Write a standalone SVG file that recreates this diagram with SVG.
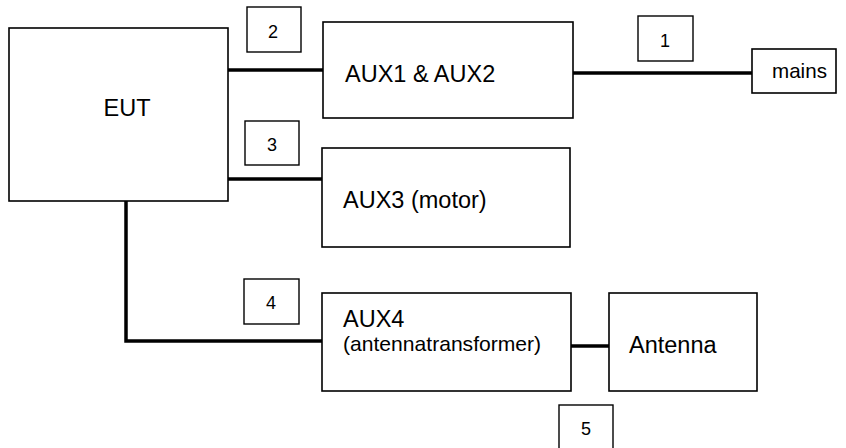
<svg xmlns="http://www.w3.org/2000/svg" width="846" height="448" viewBox="0 0 846 448">
<style>
.box{fill:#fff;stroke:#000;stroke-width:1.6}
.lbl{fill:#000;stroke:#000;stroke-width:1.4;fill:none}
.wire{stroke:#000;stroke-width:3.5;fill:none}
text{font-family:"Liberation Sans",Arial,sans-serif;fill:#000}
.big{font-size:23.5px}
.num{font-size:18px;text-anchor:middle}
</style>
<rect width="846" height="448" fill="#fff"/>
<g id="connectors">
<line class="wire" x1="228" y1="70" x2="323" y2="70"/>
<line class="wire" x1="573" y1="73" x2="752" y2="73"/>
<line class="wire" x1="226" y1="179" x2="323" y2="179"/>
<polyline class="wire" points="126,201 126,341 322,341"/>
<line class="wire" x1="571" y1="346" x2="609" y2="346"/>
</g>
<g id="eut">
<rect class="box" x="9" y="28" width="219" height="173"/>
<text class="big" x="127" y="116" text-anchor="middle">EUT</text>
</g>
<g id="aux12">
<rect class="box" x="323" y="22" width="250" height="96"/>
<text class="big" x="345" y="82">AUX1 &amp; AUX2</text>
</g>
<g id="mains">
<rect class="box" x="752" y="49" width="84" height="44"/>
<text x="772" y="78" font-size="20.6">mains</text>
</g>
<g id="aux3">
<rect class="box" x="322" y="148" width="248" height="99"/>
<text class="big" x="343" y="208">AUX3 (motor)</text>
</g>
<g id="aux4">
<rect class="box" x="322" y="293" width="249" height="98"/>
<text class="big" x="343" y="327">AUX4</text>
<text x="343" y="351" font-size="21.1">(antennatransformer)</text>
</g>
<g id="antenna">
<rect class="box" x="609" y="293" width="148" height="98"/>
<text class="big" x="629" y="353">Antenna</text>
</g>
<g id="label1">
<rect class="lbl" x="638" y="16" width="55" height="45"/>
<text class="num" x="665" y="47">1</text>
</g>
<g id="label2">
<rect class="lbl" x="247" y="7" width="54" height="45"/>
<text class="num" x="273" y="38">2</text>
</g>
<g id="label3">
<rect class="lbl" x="245" y="121" width="54" height="44"/>
<text class="num" x="272" y="151">3</text>
</g>
<g id="label4">
<rect class="lbl" x="244" y="279" width="55" height="45"/>
<text class="num" x="271" y="309">4</text>
</g>
<g id="label5">
<rect class="lbl" x="559" y="405" width="54" height="45"/>
<text class="num" x="586" y="435">5</text>
</g>
</svg>
